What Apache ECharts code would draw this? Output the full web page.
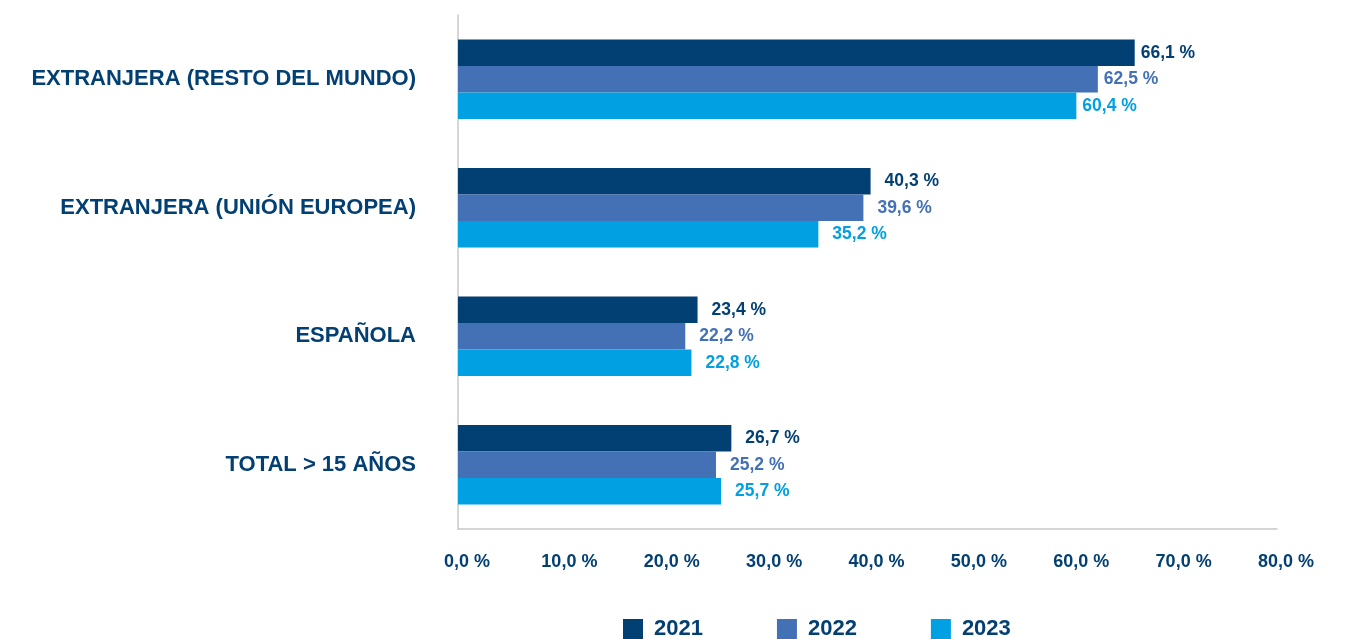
<!DOCTYPE html>
<html>
<head>
<meta charset="utf-8">
<script src="https://cdn.jsdelivr.net/npm/echarts@6/dist/echarts.min.js"></script>
<style>
html,body{margin:0;padding:0;background:#fff;}
#chart{width:1350px;height:639px;}
</style>
</head>
<body>
<div id="chart"></div>
<script>
var categories = ['TOTAL > 15 AÑOS', 'ESPAÑOLA', 'EXTRANJERA (UNIÓN EUROPEA)', 'EXTRANJERA (RESTO DEL MUNDO)'];
var seriesNames = ['2021', '2022', '2023'];
var values2021 = [26.7, 23.4, 40.3, 66.1];
var values2022 = [25.2, 22.2, 39.6, 62.5];
var values2023 = [25.7, 22.8, 35.2, 60.4];
var xTicks = [0, 10, 20, 30, 40, 50, 60, 70, 80];

var colors = ['#023f73', '#4471b5', '#00a0e2'];
var allValues = [values2021, values2022, values2023];
var FONT = '"Liberation Sans", Arial, sans-serif';

function fmt(v) {
  return v.toFixed(1).replace('.', ',') + ' %';
}

var series = allValues.map(function (vals, i) {
  return {
    name: seriesNames[i],
    type: 'bar',
    barGap: '0%',
    barCategoryGap: '38%',
    itemStyle: { color: colors[i] },
    label: {
      show: true,
      position: 'right',
      distance: 14,
      color: colors[i],
      fontFamily: FONT,
      fontWeight: 'bold',
      fontSize: 17.5,
      formatter: function (p) { return fmt(p.value); }
    },
    data: vals.map(function (v, j) {
      var d = { value: v };
      if (j === 3) d.label = { distance: 6 };
      return d;
    })
  };
});

var chart = echarts.init(document.getElementById('chart'));
chart.setOption({
  animation: false,
  grid: { left: 458, right: 73, top: 15, bottom: 110, containLabel: false },
  legend: {
    data: seriesNames,
    top: 618,
    left: 623,
    padding: 0,
    itemWidth: 20,
    itemHeight: 20,
    itemGap: 74,
    icon: 'rect',
    textStyle: { color: '#023f73', fontFamily: FONT, fontWeight: 'bold', fontSize: 22, padding: [0, 0, 0, 6] }
  },
  xAxis: {
    type: 'value',
    min: 0,
    max: 80,
    interval: 10,
    axisLine: { show: true, lineStyle: { color: '#c8c8c8', width: 1.5 } },
    axisTick: { show: false },
    splitLine: { show: false },
    axisLabel: {
      margin: 22,
      padding: [2, 0, 0, 18],
      color: '#023f73',
      fontFamily: FONT,
      fontWeight: 'bold',
      fontSize: 18,
      formatter: function (v) { return xTicks.indexOf(v) >= 0 ? fmt(v) : ''; }
    }
  },
  yAxis: {
    type: 'category',
    data: categories,
    axisLine: { show: true, lineStyle: { color: '#c8c8c8', width: 1.5 } },
    axisTick: { show: false },
    axisLabel: {
      margin: 42,
      padding: [5, 0, 0, 0],
      color: '#023f73',
      fontFamily: FONT,
      fontWeight: 'bold',
      fontSize: 22
    }
  },
  series: series
});
</script>
</body>
</html>
